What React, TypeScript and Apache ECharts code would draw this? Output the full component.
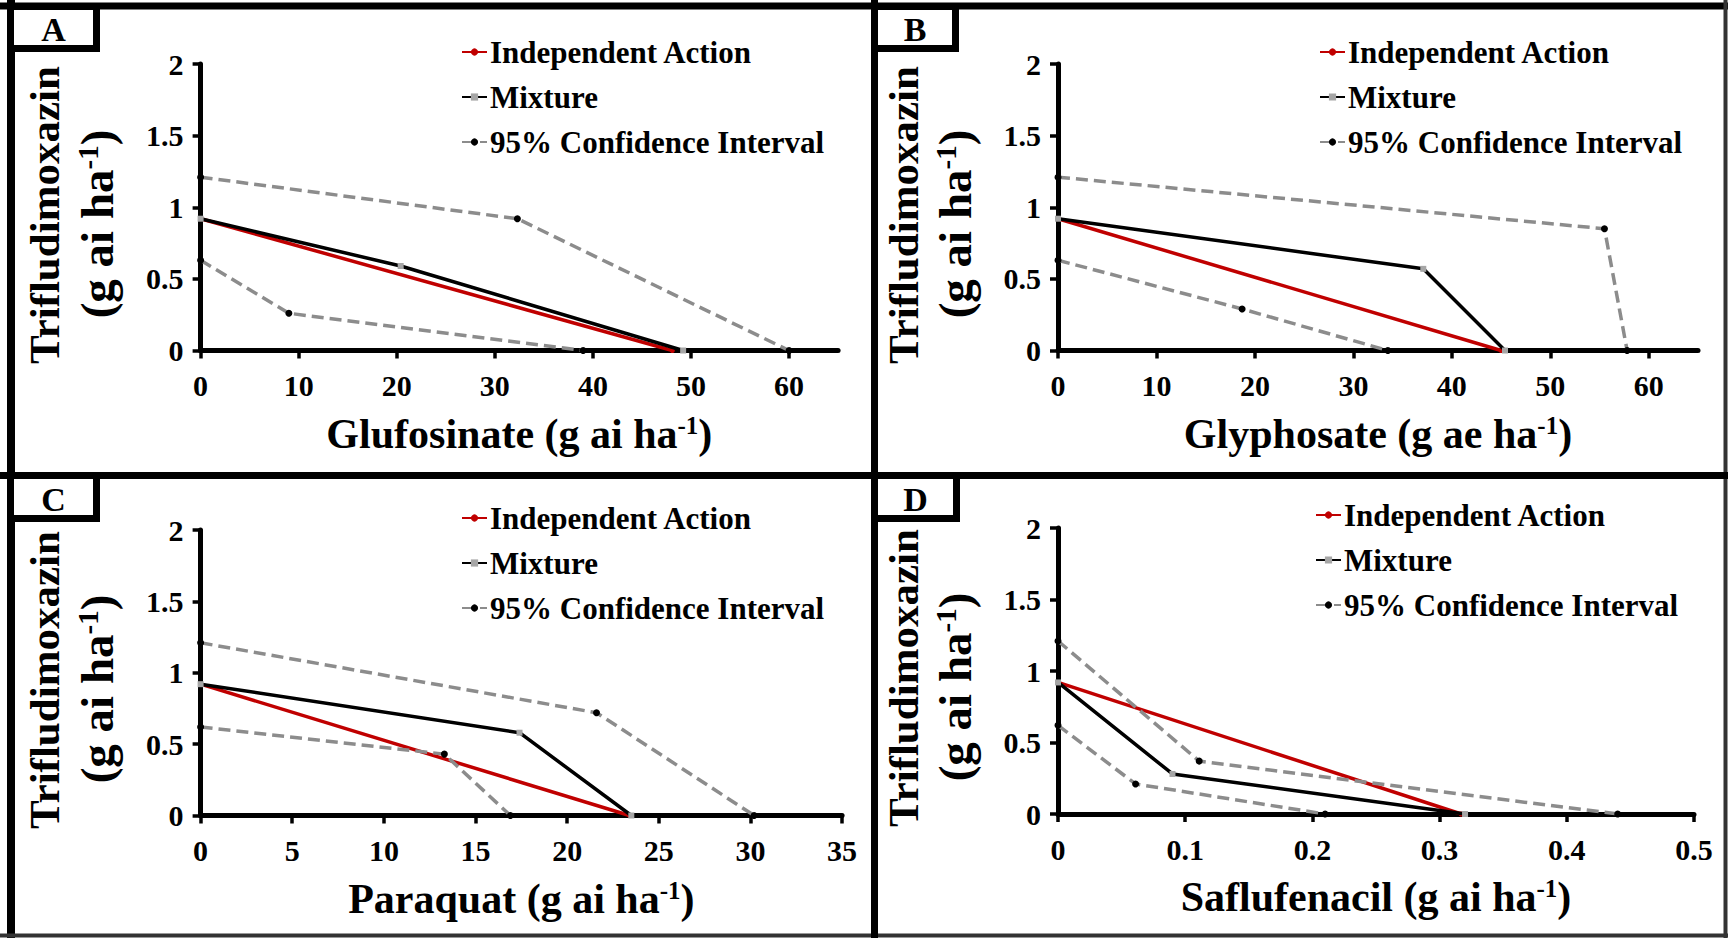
import React, { useEffect, useRef } from "react";
import * as echarts from "echarts";

// ---------- data ----------
const seriesNames = ["Independent Action", "Mixture", "95% Confidence Interval"];
const panelLetters = ["A", "B", "C", "D"];
const xTitles = ["Glufosinate (g ai ha", "Glyphosate (g ae ha", "Paraquat (g ai ha", "Saflufenacil (g ai ha"];
const yTitle = "Trifludimoxazin";
const yTitleUnit = "(g ai ha";
const supText = "-1";

const yTickValues = [0, 0.5, 1, 1.5, 2];
const xTicksA = [0, 10, 20, 30, 40, 50, 60];
const xTicksB = [0, 10, 20, 30, 40, 50, 60];
const xTicksC = [0, 5, 10, 15, 20, 25, 30, 35];
const xTicksD = [0, 0.1, 0.2, 0.3, 0.4, 0.5];
const xMaxes = [65, 65, 35, 0.5];
const xIntervals = [10, 10, 5, 0.1];

// Panel A – Glufosinate
const independentA = [[0, 0.92], [48.1, 0]];
const mixtureA = [[0, 0.92], [20.4, 0.59], [49.2, 0]];
const upperCIA = [[0, 1.21], [32.3, 0.92], [60, 0]];
const lowerCIA = [[0, 0.63], [9, 0.26], [39, 0]];

// Panel B – Glyphosate
const independentB = [[0, 0.92], [45, 0]];
const mixtureB = [[0, 0.92], [37.1, 0.57], [45.4, 0]];
const upperCIB = [[0, 1.21], [55.5, 0.85], [57.8, 0]];
const lowerCIB = [[0, 0.63], [18.7, 0.29], [33.5, 0]];

// Panel C – Paraquat
const independentC = [[0, 0.92], [23.4, 0]];
const mixtureC = [[0, 0.92], [17.4, 0.58], [23.5, 0]];
const upperCIC = [[0, 1.21], [21.6, 0.72], [30.2, 0]];
const lowerCIC = [[0, 0.62], [13.3, 0.43], [16.9, 0]];

// Panel D – Saflufenacil
const independentD = [[0, 0.92], [0.317, 0]];
const mixtureD = [[0, 0.92], [0.09, 0.28], [0.32, 0]];
const upperCID = [[0, 1.21], [0.111, 0.37], [0.44, 0]];
const lowerCID = [[0, 0.62], [0.061, 0.21], [0.21, 0]];

const xTicks = [xTicksA, xTicksB, xTicksC, xTicksD];
const independent = [independentA, independentB, independentC, independentD];
const mixture = [mixtureA, mixtureB, mixtureC, mixtureD];
const upperCI = [upperCIA, upperCIB, upperCIC, upperCID];
const lowerCI = [lowerCIA, lowerCIB, lowerCIC, lowerCID];

// ---------- layout / style ----------
const FONT = '"Liberation Serif", "Times New Roman", serif';
const RED = "#c00000";
const GRAY = "#8c8c8c";
const W = 1728;
const H = 938;

const grids = [
  { left: 200.6, top: 64, width: 637.5, height: 286.5 },
  { left: 1058, top: 64, width: 640, height: 286.5 },
  { left: 200.6, top: 530, width: 641.5, height: 285.5 },
  { left: 1058, top: 528, width: 636, height: 286 },
];
const legendPos = [
  { left: 461, top: 34 },
  { left: 1319, top: 34 },
  { left: 461, top: 500 },
  { left: 1315, top: 497 },
];
const yTitlePos = [
  { x1: 44, x2: 97, y1: 215, y2: 224 },
  { x1: 903, x2: 955, y1: 215, y2: 224 },
  { x1: 44, x2: 97, y1: 680, y2: 689 },
  { x1: 903, x2: 955, y1: 678, y2: 687 },
];
const letterBoxes = [
  { x: 10.5, y: 6.5, w: 86, h: 42 },
  { x: 874.5, y: 6.5, w: 81, h: 42 },
  { x: 10.5, y: 475.5, w: 86, h: 43 },
  { x: 874.5, y: 475.5, w: 82, h: 43 },
];

function buildOption() {
  const richTitle = {
    t: { fontSize: 42, fontWeight: "bold" as const, fontFamily: FONT, color: "#000" },
    s: { fontSize: 25, fontWeight: "bold" as const, fontFamily: FONT, color: "#000", verticalAlign: "top" as const, padding: [0, 0, 14, 0] },
  };
  const richUnit = {
    t: { fontSize: 47, fontWeight: "bold" as const, fontFamily: FONT, color: "#000" },
    s: { fontSize: 29, fontWeight: "bold" as const, fontFamily: FONT, color: "#000", verticalAlign: "top" as const, padding: [0, 0, 16, 0] },
  };

  const xAxis = grids.map((_, i) => ({
    gridIndex: i,
    type: "value",
    min: 0,
    max: xMaxes[i],
    interval: xIntervals[i],
    axisLine: { onZero: false, lineStyle: { color: "#000", width: 5 } },
    axisTick: { show: true, length: 8, customValues: xTicks[i], lineStyle: { color: "#000", width: 3.5 } },
    axisLabel: {
      customValues: xTicks[i],
      color: "#000",
      fontFamily: FONT,
      fontWeight: "bold",
      fontSize: 30,
      margin: 20,
    },
    splitLine: { show: false },
    name: `{t|${xTitles[i]}}{s|${supText}}{t|)}`,
    nameLocation: "middle",
    nameGap: 62,
    nameTextStyle: { rich: richTitle },
  }));

  const yAxis = grids.map((_, i) => ({
    gridIndex: i,
    type: "value",
    min: 0,
    max: 2,
    interval: 0.5,
    axisLine: { show: true, onZero: false, lineStyle: { color: "#000", width: 5 } },
    axisTick: { show: true, length: 8, customValues: yTickValues, lineStyle: { color: "#000", width: 3.5 } },
    axisLabel: {
      customValues: yTickValues,
      color: "#000",
      fontFamily: FONT,
      fontWeight: "bold",
      fontSize: 30,
      margin: 17,
    },
    splitLine: { show: false },
  }));

  const series: any[] = [];
  grids.forEach((_, i) => {
    series.push({
      name: seriesNames[0],
      type: "line",
      xAxisIndex: i,
      yAxisIndex: i,
      data: independent[i],
      symbol: "circle",
      symbolSize: 5,
      lineStyle: { color: RED, width: 3.5 },
      itemStyle: { color: RED },
      z: 3,
    });
    series.push({
      name: seriesNames[1],
      type: "line",
      xAxisIndex: i,
      yAxisIndex: i,
      data: mixture[i],
      symbol: "rect",
      symbolSize: 6,
      lineStyle: { color: "#000", width: 3.5 },
      itemStyle: { color: "#a6a6a6" },
      z: 4,
    });
    [upperCI[i], lowerCI[i]].forEach((d) => {
      series.push({
        name: seriesNames[2],
        type: "line",
        xAxisIndex: i,
        yAxisIndex: i,
        data: d,
        symbol: "circle",
        symbolSize: 7,
        lineStyle: { color: GRAY, width: 3.5, type: [12, 6] },
        itemStyle: { color: "#000" },
        z: 5,
      });
    });
  });

  const legend = legendPos.map((p) => ({
    data: seriesNames,
    orient: "vertical",
    left: p.left,
    top: p.top,
    padding: 0,
    itemWidth: 25,
    itemHeight: 9,
    itemGap: 9,
    selectedMode: false,
    textStyle: { color: "#000", fontFamily: FONT, fontWeight: "bold", fontSize: 31, lineHeight: 36, padding: [0, 0, 0, -2] },
  }));

  const graphic: any[] = [];
  const lines = [
    { x1: 0, y1: 6, x2: W, y2: 6, w: 7, c: "#000" },
    { x1: 11, y1: 0, x2: 11, y2: H, w: 8, c: "#000" },
    { x1: 1725.5, y1: 0, x2: 1725.5, y2: H, w: 4, c: "#333" },
    { x1: 0, y1: 935.5, x2: W, y2: 935.5, w: 4, c: "#333" },
    { x1: 874.5, y1: 0, x2: 874.5, y2: H, w: 7, c: "#000" },
    { x1: 0, y1: 475.5, x2: W, y2: 475.5, w: 7, c: "#000" },
  ];
  lines.forEach((l) =>
    graphic.push({
      type: "line",
      silent: true,
      shape: { x1: l.x1, y1: l.y1, x2: l.x2, y2: l.y2 },
      style: { stroke: l.c, lineWidth: l.w },
      z: 10,
    })
  );
  letterBoxes.forEach((b, i) => {
    graphic.push({
      type: "rect",
      silent: true,
      shape: { x: b.x, y: b.y, width: b.w, height: b.h },
      style: { fill: "#fff", stroke: "#000", lineWidth: 7 },
      z: 11,
    });
    graphic.push({
      type: "text",
      silent: true,
      x: b.x + b.w / 2,
      y: b.y + b.h / 2 + 2,
      style: {
        text: panelLetters[i],
        fill: "#000",
        font: `bold 34px ${FONT}`,
        align: "center",
        verticalAlign: "middle",
      },
      z: 12,
    });
  });
  yTitlePos.forEach((p) => {
    graphic.push({
      type: "text",
      silent: true,
      x: p.x1,
      y: p.y1,
      rotation: Math.PI / 2,
      style: {
        text: yTitle,
        fill: "#000",
        font: `bold 43px ${FONT}`,
        align: "center",
        verticalAlign: "middle",
      },
      z: 12,
    });
    graphic.push({
      type: "text",
      silent: true,
      x: p.x2,
      y: p.y2,
      rotation: Math.PI / 2,
      style: {
        text: `{t|${yTitleUnit}}{s|${supText}}{t|)}`,
        rich: richUnit,
        align: "center",
        verticalAlign: "middle",
      },
      z: 12,
    });
  });

  return {
    animation: false,
    backgroundColor: "#fff",
    grid: grids.map((g) => ({ ...g, containLabel: false })),
    xAxis,
    yAxis,
    legend,
    series,
    graphic,
  };
}

export default function App() {
  const ref = useRef<HTMLDivElement | null>(null);
  useEffect(() => {
    document.body.style.margin = "0";
    if (!ref.current) return;
    const chart = echarts.init(ref.current, undefined, { renderer: "svg", width: W, height: H });
    chart.setOption(buildOption() as any);
    return () => chart.dispose();
  }, []);
  return <div ref={ref} style={{ width: W, height: H, background: "#fff" }} />;
}
